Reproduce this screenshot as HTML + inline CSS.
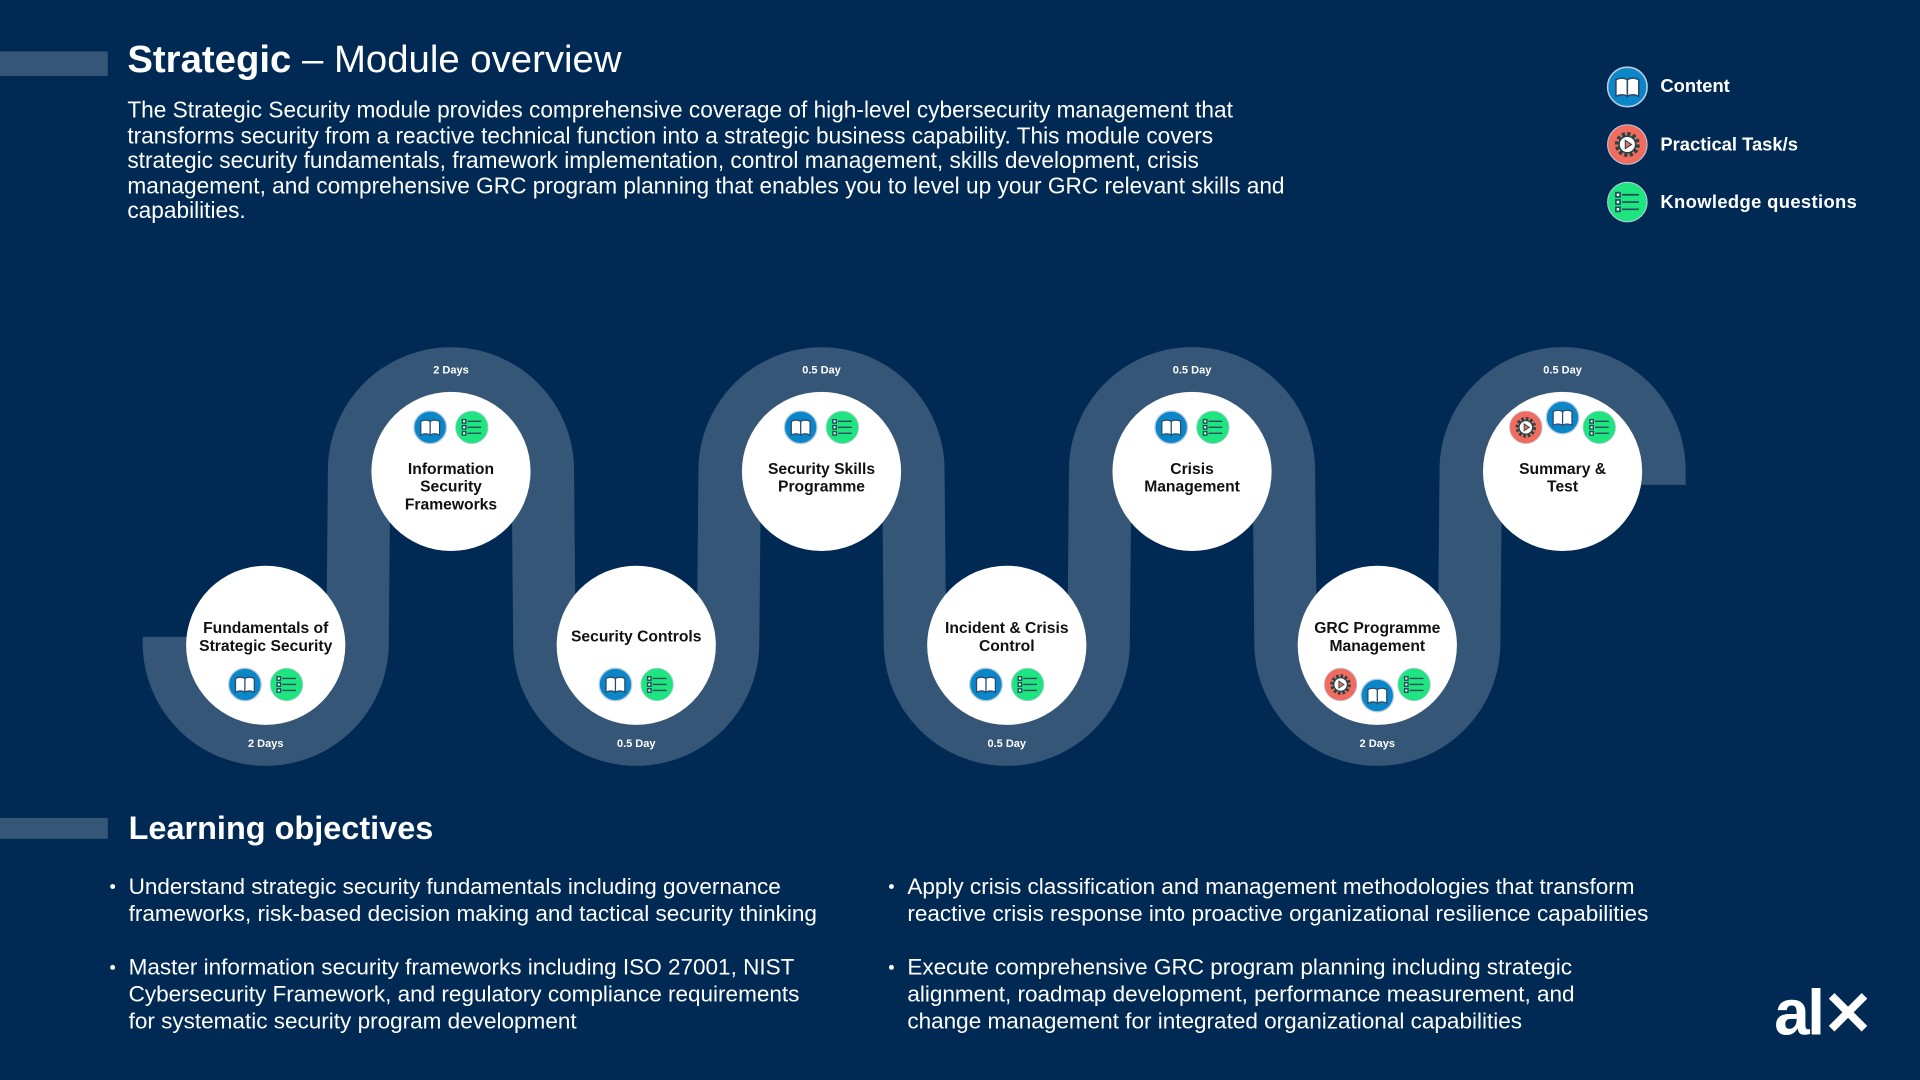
<!DOCTYPE html>
<html><head><meta charset="utf-8"><style>
html,body{margin:0;padding:0;background:#002a54;overflow:hidden}
#stage{position:absolute;left:0;top:0;width:1568px;height:882px;transform:scale(1.22449);transform-origin:0 0;font-family:"Liberation Sans",sans-serif;color:#fff}
.abs{position:absolute}
.bar{position:absolute;left:0;width:88px;height:20px;background:#355677}
p{margin:0}
.desc{left:104px;top:80px;font-size:18.5px;line-height:20.6px;white-space:nowrap}
.leg{position:absolute;left:1356px;font-weight:bold;font-size:15px}
.obj{position:absolute;font-size:18.4px;line-height:22px;white-space:nowrap}
.obj:before{content:"";position:absolute;left:-15px;top:9px;width:4px;height:4px;border-radius:50%;background:#fff}
</style></head><body>
<div id="stage">
<svg width="0" height="0" style="position:absolute">
<defs>
<symbol id="ic-book" viewBox="-20 -20 40 40"><circle r="19" fill="#0b86c8" stroke="#bcd" stroke-width="1.5"/><path d="M-11,-7 Q-5,-10 0,-7 L0,9 Q-5,6 -11,9Z M11,-7 Q5,-10 0,-7 L0,9 Q5,6 11,9Z" fill="#fff" stroke="#2a4a6a" stroke-width="1.5"/></symbol>
<symbol id="ic-list" viewBox="-20 -20 40 40"><circle r="19" fill="#1ee57f" stroke="#bcd" stroke-width="1"/><g stroke="#1d4a5a" stroke-width="1.6" fill="#fff"><rect x="-11" y="-9" width="4" height="4"/><rect x="-11" y="-2" width="4" height="4"/><rect x="-11" y="5" width="4" height="4"/><path d="M-5,-7H11M-5,0H11M-5,7H11"/></g></symbol>
<symbol id="ic-gear" viewBox="-20 -20 40 40"><circle r="19" fill="#f26b5f" stroke="#bcd" stroke-width="1"/><circle r="10" fill="none" stroke="#244" stroke-width="4" stroke-dasharray="3 2.2"/><circle r="8" fill="#fff" stroke="#244" stroke-width="1.5"/><path d="M-2,-4 L4,0 L-2,4Z" fill="#f26b5f" stroke="#244" stroke-width="1"/></symbol>
</defs></svg>

<div class="bar" style="top:42px"></div>
<div class="abs" style="left:104px;top:31px;font-size:31.3px;white-space:nowrap"><b>Strategic</b> – Module overview</div>
<p class="abs desc">The Strategic Security module provides comprehensive coverage of high-level cybersecurity management that<br>transforms security from a reactive technical function into a strategic business capability. This module covers<br>strategic security fundamentals, framework implementation, control management, skills development, crisis<br>management, and comprehensive GRC program planning that enables you to level up your GRC relevant skills and<br>capabilities.</p>

<svg class="abs" style="left:1312px;top:54px" width="34" height="130">
<use href="#ic-book" x="0" y="0" width="34" height="34"/><use href="#ic-gear" x="0" y="47" width="34" height="34"/><use href="#ic-list" x="0" y="94" width="34" height="34"/></svg>
<div class="leg" style="top:62px">Content</div>
<div class="leg" style="top:110px">Practical Task/s</div>
<div class="leg" style="top:157px;letter-spacing:0.3px">Knowledge questions</div>

<svg id="road" class="abs" style="left:0;top:0" width="1568" height="660"></svg>

<div class="bar" style="top:668px;height:17px"></div>
<div class="abs" style="left:105px;top:661px;font-size:26.5px;font-weight:bold">Learning objectives</div>
<div class="obj" style="left:105px;top:713px">Understand strategic security fundamentals including governance<br>frameworks, risk-based decision making and tactical security thinking</div>
<div class="obj" style="left:105px;top:779px">Master information security frameworks including ISO 27001, NIST<br>Cybersecurity Framework, and regulatory compliance requirements<br>for systematic security program development</div>
<div class="obj" style="left:741px;top:713px">Apply crisis classification and management methodologies that transform<br>reactive crisis response into proactive organizational resilience capabilities</div>
<div class="obj" style="left:741px;top:779px">Execute comprehensive GRC program planning including strategic<br>alignment, roadmap development, performance measurement, and<br>change management for integrated organizational capabilities</div>
<div class="abs" style="left:1449px;top:798px;font-size:52px;font-weight:bold;letter-spacing:-2px">al<span style="font-size:50px">✕</span></div>
</div>
<script>
const moduleNames=[["Fundamentals of","Strategic Security"],["Information","Security","Frameworks"],["Security Controls"],["Security Skills","Programme"],["Incident & Crisis","Control"],["Crisis","Management"],["GRC Programme","Management"],["Summary &","Test"]];
const durations=["2 Days","2 Days","0.5 Day","0.5 Day","0.5 Day","0.5 Day","2 Days","0.5 Day"];
const moduleIcons=[["book","list"],["book","list"],["book","list"],["book","list"],["book","list"],["book","list"],["gear","book","list"],["gear","book","list"]];
const NS="http://www.w3.org/2000/svg";
const svg=document.getElementById('road');
const cxOf=i=>217+i*151.3, cyOf=i=>i%2===0?525:384, R=75;
function mk(t,a,p){const e=document.createElementNS(NS,t);for(const k in a)e.setAttribute(k,a[k]);(p||svg).appendChild(e);return e;}
let d="M"+(cxOf(0)-R)+",520";
moduleNames.forEach((n,i)=>{const cx=cxOf(i),cy=cyOf(i),bottom=i%2===0;
 d+=" L"+(cx-R)+","+cy+" A"+R+","+R+" 0 0 "+(bottom?0:1)+" "+(cx+R)+","+cy;});
d+=" L"+(cxOf(moduleNames.length-1)+R)+",396";
const road=mk('path',{d:d,fill:'none',stroke:'#355677','stroke-width':51});


moduleNames.forEach((lines,i)=>{
 const cx=cxOf(i),bottom=i%2===0,cy=bottom?527:385;
 const g=mk('g',{});
 
 
 mk('circle',{cx:cx,cy:cy,r:65,fill:'#fff'},g);
 const dur=mk('text',{x:cx,y:bottom?cy+83:cy-80,'text-anchor':'middle',fill:'#fff','font-size':9,'font-weight':'bold','font-family':'Liberation Sans, sans-serif'},g);
 dur.textContent=durations[i];
 
 
 const lh=14.5;
 let ty=bottom?(lines.length===1?cy-3:cy-10):cy+2;
 lines.forEach((l,k)=>{const t=mk('text',{x:cx,y:ty+k*lh,'text-anchor':'middle',fill:'#111','font-size':12.8,'font-weight':'bold','font-family':'Liberation Sans, sans-serif'},g);t.textContent=l;});
 const ic=moduleIcons[i], n=ic.length, iy=bottom?cy+32:cy-36, sp=n===3?30:34;
 ic.forEach((name,k)=>{let y=iy; if(n===3){y+= (k===1?(bottom?9:-8):0);}
  const u=mk('use',{href:'#ic-'+name,x:cx+(k-(n-1)/2)*sp-14,y:y-14,width:28,height:28},g);
  
  });
});
</script>
</body></html>
